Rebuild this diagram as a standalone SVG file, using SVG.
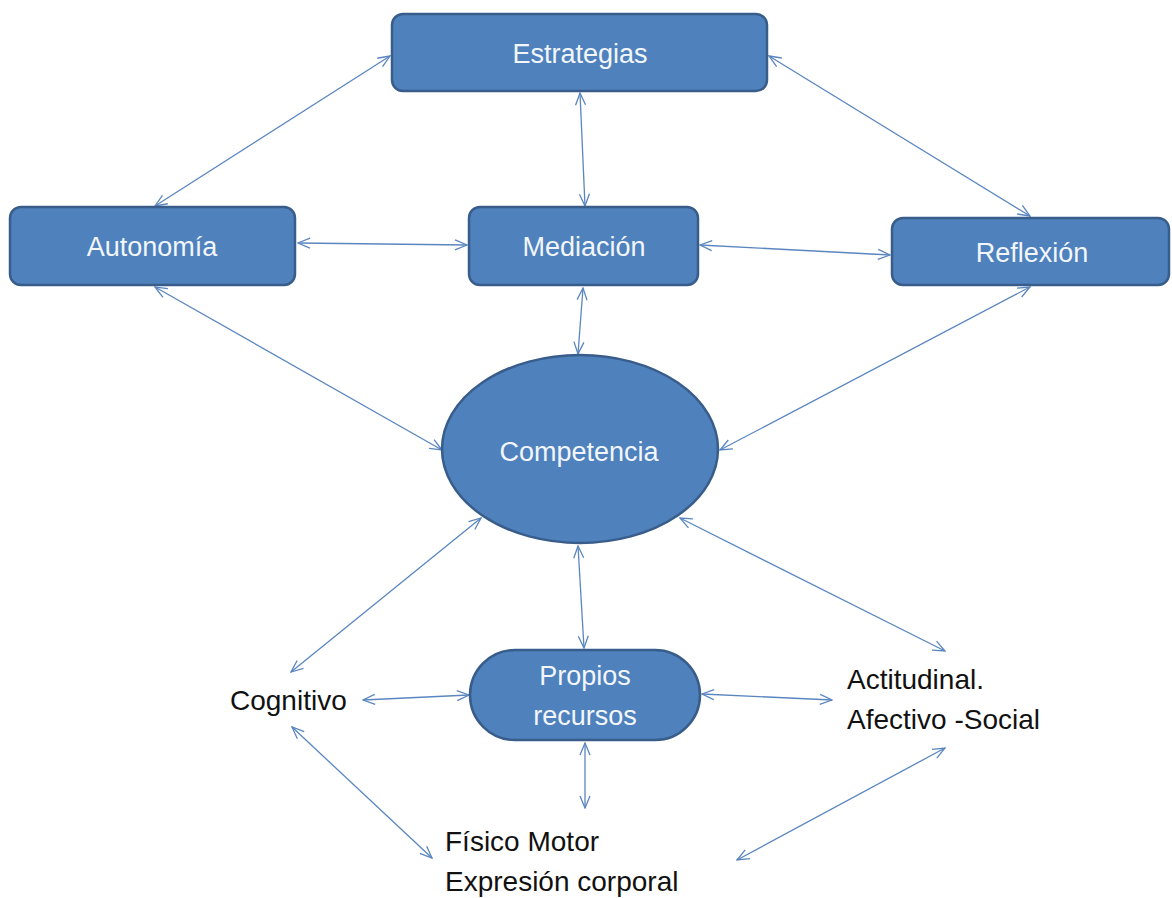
<svg xmlns="http://www.w3.org/2000/svg" width="1172" height="898" viewBox="0 0 1172 898">
<style>
.box{fill:#4F81BD;stroke:#385D8A;stroke-width:2.5}
.lbl{font-family:"Liberation Sans",Arial,sans-serif;font-size:27px;fill:#F2F6FB;text-anchor:middle}
.txt{font-family:"Liberation Sans",Arial,sans-serif;font-size:28px;fill:#111}
.con{stroke:#5A86C0;stroke-width:1.3;fill:none;marker-start:url(#ah);marker-end:url(#ah)}
</style>
<defs>
<marker id="ah" viewBox="0 0 14 12" refX="13" refY="6" markerWidth="14" markerHeight="12" markerUnits="userSpaceOnUse" orient="auto-start-reverse">
<path d="M1,1 L13,6 L1,11" fill="none" stroke="#5A86C0" stroke-width="1.3"/>
</marker>
</defs>
<rect width="1172" height="898" fill="#fff"/>
<g id="connectors">
<line class="con" x1="390" y1="56" x2="155" y2="206"/>
<line class="con" x1="769" y1="56" x2="1030" y2="216"/>
<line class="con" x1="580" y1="93" x2="585" y2="206"/>
<line class="con" x1="298" y1="243" x2="467" y2="245"/>
<line class="con" x1="700" y1="245" x2="890" y2="255"/>
<line class="con" x1="583" y1="288" x2="578" y2="354"/>
<line class="con" x1="155" y1="287" x2="442" y2="450"/>
<line class="con" x1="1030" y1="287" x2="720" y2="450"/>
<line class="con" x1="481" y1="518" x2="291" y2="672"/>
<line class="con" x1="578" y1="546" x2="584" y2="648"/>
<line class="con" x1="680" y1="518" x2="945" y2="651"/>
<line class="con" x1="363" y1="700" x2="469" y2="695"/>
<line class="con" x1="702" y1="694" x2="832" y2="700"/>
<line class="con" x1="585" y1="743" x2="585" y2="808"/>
<line class="con" x1="292" y1="727" x2="432" y2="858"/>
<line class="con" x1="945" y1="748" x2="737" y2="860"/>
</g>
<g id="estrategias">
<rect class="box" x="392" y="14" width="375" height="77" rx="11"/>
<text class="lbl" x="580" y="63">Estrategias</text>
</g>
<g id="autonomia">
<rect class="box" x="10" y="207" width="285" height="78" rx="11"/>
<text class="lbl" x="152" y="256">Autonomía</text>
</g>
<g id="mediacion">
<rect class="box" x="469" y="207" width="229" height="78" rx="11"/>
<text class="lbl" x="584" y="256">Mediación</text>
</g>
<g id="reflexion">
<rect class="box" x="892" y="218" width="277" height="67" rx="11"/>
<text class="lbl" x="1032" y="262">Reflexión</text>
</g>
<g id="competencia">
<ellipse class="box" cx="580" cy="449" rx="138" ry="94"/>
<text class="lbl" x="579" y="461">Competencia</text>
</g>
<g id="propios">
<rect class="box" x="470" y="650" width="230" height="90" rx="45"/>
<text class="lbl" x="585" y="685">Propios</text>
<text class="lbl" x="585" y="725">recursos</text>
</g>
<g id="cognitivo">
<text class="txt" x="230" y="710">Cognitivo</text>
</g>
<g id="actitudinal">
<text class="txt" x="847" y="689">Actitudinal.</text>
<text class="txt" x="847" y="729">Afectivo -Social</text>
</g>
<g id="fisico">
<text class="txt" x="445" y="851">Físico Motor</text>
<text class="txt" x="445" y="891">Expresión corporal</text>
</g>
</svg>
